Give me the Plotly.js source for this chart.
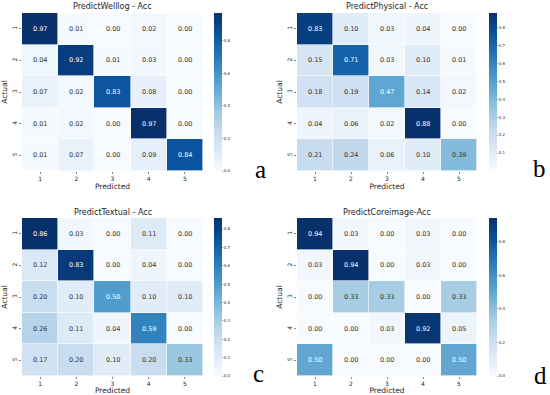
<!DOCTYPE html>
<html>
<head>
<meta charset="utf-8">
<script src="https://cdn.plot.ly/plotly-3.0.1.min.js"></script>
<style>
html,body{margin:0;padding:0;background:#fff;}
#chart{width:550px;height:395px;}
</style>
</head>
<body>
<div id="chart"></div>
<script>
// ---- data ----
const classLabels = ['1', '2', '3', '4', '5'];

const titles = ['PredictWelllog - Acc', 'PredictPhysical - Acc', 'PredictTextual - Acc', 'PredictCoreimage-Acc'];
const panelLetters = ['a', 'b', 'c', 'd'];

const welllog = [
  [0.97, 0.01, 0.00, 0.02, 0.00],
  [0.04, 0.92, 0.01, 0.03, 0.00],
  [0.07, 0.02, 0.83, 0.08, 0.00],
  [0.01, 0.02, 0.00, 0.97, 0.00],
  [0.01, 0.07, 0.00, 0.09, 0.84]
];
const physical = [
  [0.83, 0.10, 0.03, 0.04, 0.00],
  [0.15, 0.71, 0.03, 0.10, 0.01],
  [0.18, 0.19, 0.47, 0.14, 0.02],
  [0.04, 0.06, 0.02, 0.88, 0.00],
  [0.21, 0.24, 0.06, 0.10, 0.39]
];
const textual = [
  [0.86, 0.03, 0.00, 0.11, 0.00],
  [0.12, 0.83, 0.00, 0.04, 0.00],
  [0.20, 0.10, 0.50, 0.10, 0.10],
  [0.26, 0.11, 0.04, 0.59, 0.00],
  [0.17, 0.20, 0.10, 0.20, 0.33]
];
const coreimage = [
  [0.94, 0.03, 0.00, 0.03, 0.00],
  [0.03, 0.94, 0.00, 0.03, 0.00],
  [0.00, 0.33, 0.33, 0.00, 0.33],
  [0.00, 0.00, 0.03, 0.92, 0.05],
  [0.50, 0.00, 0.00, 0.00, 0.50]
];
const matrices = [welllog, physical, textual, coreimage];

const colorbarTicks = [
  [0.0, 0.2, 0.4, 0.6, 0.8],
  [0.1, 0.2, 0.3, 0.4, 0.5, 0.6, 0.7, 0.8],
  [0.0, 0.1, 0.2, 0.3, 0.4, 0.5, 0.6, 0.7, 0.8],
  [0.0, 0.2, 0.4, 0.6, 0.8]
];

// ---- styling / layout ----
const W = 550, H = 395;
const blues = [
  [0.0, '#f7fbff'], [0.125, '#deebf7'], [0.25, '#c6dbef'], [0.375, '#9ecae1'],
  [0.5, '#6baed6'], [0.625, '#4292c6'], [0.75, '#2171b5'], [0.875, '#08519c'], [1.0, '#08306b']
];
function hex2rgb(h){return [parseInt(h.substr(1,2),16),parseInt(h.substr(3,2),16),parseInt(h.substr(5,2),16)];}
function colorAt(t){
  t = Math.max(0, Math.min(1, t));
  for (let i = 1; i < blues.length; i++) {
    if (t <= blues[i][0]) {
      const a = blues[i-1], b = blues[i];
      const f = (t - a[0]) / (b[0] - a[0]);
      const ca = hex2rgb(a[1]), cb = hex2rgb(b[1]);
      return ca.map((v, k) => v + (cb[k] - v) * f);
    }
  }
  return hex2rgb(blues[blues.length-1][1]);
}
function luminance(rgb){
  const c = rgb.map(v => { v /= 255; return v <= 0.03928 ? v / 12.92 : Math.pow((v + 0.055) / 1.055, 2.4); });
  return 0.2126*c[0] + 0.7152*c[1] + 0.0722*c[2];
}

// pixel boxes for the 4 heatmaps
const boxes = [
  {l: 22, r: 203, t: 13, b: 171},
  {l: 297, r: 477, t: 13, b: 171},
  {l: 22, r: 203, t: 218, b: 376},
  {l: 297, r: 477, t: 218, b: 376}
];
const cbLeft = [214, 489, 214, 489];
const letterPos = [[260, 169], [539, 168], [258, 373], [540, 375]];

const FONT = 'DejaVu Sans, sans-serif';
const traces = [];
const layout = {
  width: W, height: H,
  margin: {l: 0, r: 0, t: 0, b: 0},
  paper_bgcolor: '#fff', plot_bgcolor: '#fff',
  showlegend: false,
  font: {family: FONT, color: '#262626'},
  annotations: []
};

matrices.forEach((z, i) => {
  const n = i + 1;
  const sfx = n === 1 ? '' : String(n);
  const box = boxes[i];
  const flat = z.flat();
  const zmin = Math.min(...flat), zmax = Math.max(...flat);

  traces.push({
    type: 'heatmap',
    x: classLabels, y: classLabels, z: z,
    xaxis: 'x' + sfx, yaxis: 'y' + sfx,
    coloraxis: 'coloraxis' + sfx,
    xgap: 0.6, ygap: 0.6,
    hoverinfo: 'skip'
  });

  layout['xaxis' + sfx] = {
    domain: [box.l / W, box.r / W],
    anchor: 'y' + sfx,
    type: 'category',
    showgrid: false, zeroline: false, showline: false,
    ticks: 'outside', ticklen: 2, tickwidth: 0.6, tickcolor: '#333',
    tickfont: {size: 6, family: FONT, color: '#262626'},
    title: {text: 'Predicted', font: {size: 7.5, family: FONT, color: '#262626'}, standoff: 0},
    automargin: false
  };
  layout['yaxis' + sfx] = {
    domain: [1 - box.b / H, 1 - box.t / H],
    anchor: 'x' + sfx,
    type: 'category',
    autorange: 'reversed',
    showgrid: false, zeroline: false, showline: false,
    ticks: 'outside', ticklen: 2, tickwidth: 0.6, tickcolor: '#333',
    tickangle: -90,
    tickfont: {size: 6, family: FONT, color: '#262626'},
    title: {text: 'Actual', font: {size: 7.5, family: FONT, color: '#262626'}, standoff: 1},
    automargin: false
  };
  layout['coloraxis' + sfx] = {
    colorscale: blues, cmin: zmin, cmax: zmax,
    colorbar: {
      x: cbLeft[i] / W, xanchor: 'left', xpad: 0,
      y: 1 - ((box.t + box.b) / 2) / H, yanchor: 'middle', ypad: 0,
      len: (box.b - box.t) / H, lenmode: 'fraction',
      thickness: 8, thicknessmode: 'pixels',
      outlinewidth: 0,
      ticks: 'outside', ticklen: 1.5, tickwidth: 0.5, tickcolor: '#333',
      tickvals: colorbarTicks[i],
      ticktext: colorbarTicks[i].map(v => v.toFixed(1)),
      tickfont: {size: 4, family: FONT, color: '#262626'}
    }
  };

  // subplot title
  layout.annotations.push({
    xref: 'paper', yref: 'paper',
    x: ((box.l + box.r) / 2) / W, y: 1 - (box.t - 6) / H,
    xanchor: 'center', yanchor: 'middle', showarrow: false,
    text: titles[i], font: {size: 8, family: FONT, color: '#262626'}
  });
  // panel letter
  layout.annotations.push({
    xref: 'paper', yref: 'paper',
    x: letterPos[i][0] / W, y: 1 - letterPos[i][1] / H,
    xanchor: 'center', yanchor: 'middle', showarrow: false,
    text: panelLetters[i], font: {size: 25, family: 'Liberation Serif, serif', color: '#000'}
  });
  // cell annotations (seaborn-like contrast); category axes take the category index
  z.forEach((row, r) => {
    row.forEach((v, c) => {
      const rgb = colorAt((v - zmin) / (zmax - zmin));
      const txtColor = luminance(rgb) > 0.408 ? '#333333' : '#ffffff';
      layout.annotations.push({
        xref: 'x' + sfx, yref: 'y' + sfx,
        x: classLabels.indexOf(classLabels[c]), y: classLabels.indexOf(classLabels[r]),
        showarrow: false,
        text: v.toFixed(2),
        font: {size: 6.5, family: FONT, color: txtColor}
      });
    });
  });
});

Plotly.newPlot('chart', traces, layout, {staticPlot: true, displayModeBar: false});
</script>
</body>
</html>
